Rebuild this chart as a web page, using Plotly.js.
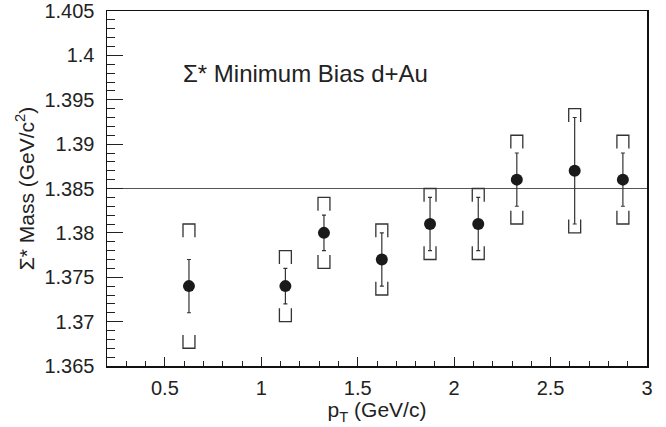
<!DOCTYPE html>
<html>
<head>
<meta charset="utf-8">
<script src="https://cdn.plot.ly/plotly-3.0.1.min.js"></script>
<style>html,body{margin:0;padding:0;background:#fff;}#chart{width:666px;height:427px;}</style>
</head>
<body>
<div id="chart"></div>
<script>
// Data
var ptValues   = [0.625, 1.125, 1.325, 1.625, 1.875, 2.125, 2.325, 2.625, 2.875];
var massValues = [1.374, 1.374, 1.380, 1.377, 1.381, 1.381, 1.386, 1.387, 1.386];
var statErrors = [0.003, 0.002, 0.002, 0.003, 0.003, 0.003, 0.003, 0.006, 0.003];
var sysErrors  = [0.007, 0.004, 0.004, 0.004, 0.004, 0.004, 0.005, 0.007, 0.005];
var referenceMass = 1.385;
var xTickVals = [0.5, 1, 1.5, 2, 2.5, 3];
var xTickText = ["0.5", "1", "1.5", "2", "2.5", "3"];
var yTickVals = [1.365, 1.37, 1.375, 1.38, 1.385, 1.39, 1.395, 1.4, 1.405];
var yTickText = ["1.365", "1.37", "1.375", "1.38", "1.385", "1.39", "1.395", "1.4", "1.405"];
var titleText = "\u03A3* Minimum Bias d+Au";

// bracket geometry (style)
var bHalfW = 0.031;   // x units
var bLeg = 0.0015;    // y units

var bx = [], by = [];
for (var i = 0; i < ptValues.length; i++) {
  var x = ptValues[i], y = massValues[i], s = sysErrors[i];
  bx.push(x - bHalfW, x - bHalfW, x + bHalfW, x + bHalfW, null);
  by.push(y + s - bLeg, y + s, y + s, y + s - bLeg, null);
  bx.push(x - bHalfW, x - bHalfW, x + bHalfW, x + bHalfW, null);
  by.push(y - s + bLeg, y - s, y - s, y - s + bLeg, null);
}

var fam = '"Liberation Sans", Arial, Helvetica, sans-serif';
var font = {family: fam, color: '#222', size: 21};
var tickFont = {family: fam, color: '#222', size: 20};

var traces = [
  {x: bx, y: by, type: 'scatter', mode: 'lines', line: {color: '#333', width: 1.3}, hoverinfo: 'skip', showlegend: false, connectgaps: false},
  {x: ptValues, y: massValues, type: 'scatter', mode: 'markers',
   marker: {color: '#1a1a1a', size: 12},
   error_y: {type: 'data', array: statErrors, visible: true, color: '#333', thickness: 1.2, width: 2},
   showlegend: false}
];

var layout = {
  width: 666, height: 427,
  margin: {l: 107, r: 19, t: 11, b: 61},
  paper_bgcolor: '#fff', plot_bgcolor: '#fff',
  font: font,
  showlegend: false,
  xaxis: {
    range: [0.2, 3.0000001], tickmode: 'array', tickvals: xTickVals, ticktext: xTickText,
    tickfont: tickFont,
    ticks: 'inside', ticklen: 9, tickwidth: 1, tickcolor: '#222',
    minor: {tickmode: 'linear', tick0: 0, dtick: 0.1, ticks: 'inside', ticklen: 5, tickcolor: '#222', showgrid: false},
    showline: true, mirror: true, linecolor: '#111', linewidth: 1.5,
    showgrid: false, zeroline: false, ticklabelstandoff: 3, ticklabeloverflow: 'allow',
    title: {text: 'p<sub>T</sub> (GeV/c)', font: font, standoff: 3}
  },
  yaxis: {
    range: [1.3649999, 1.4050001], tickmode: 'array', tickvals: yTickVals, ticktext: yTickText,
    tickfont: tickFont,
    ticks: 'inside', ticklen: 16, tickwidth: 1, tickcolor: '#222',
    minor: {tickmode: 'linear', tick0: 1.365, dtick: 0.001, ticks: 'inside', ticklen: 8, tickcolor: '#222', showgrid: false},
    showline: true, mirror: true, linecolor: '#111', linewidth: 1.5,
    showgrid: false, zeroline: false, ticklabelstandoff: 7, ticklabeloverflow: 'allow',
    title: {text: '\u03A3* Mass (GeV/c<sup>2</sup>)', font: font, standoff: 4}
  },
  shapes: [
    {type: 'line', xref: 'paper', x0: 0, x1: 1, yref: 'y', y0: referenceMass, y1: referenceMass,
     line: {color: '#555', width: 1.2}, layer: 'below'}
  ],
  annotations: [
    {text: titleText, xref: 'x', yref: 'y', x: 0.585, y: 1.398, xanchor: 'left', yanchor: 'middle',
     showarrow: false, font: {family: fam, color: '#222', size: 24}}
  ]
};

Plotly.newPlot('chart', traces, layout, {staticPlot: true, displayModeBar: false});
</script>
</body>
</html>
